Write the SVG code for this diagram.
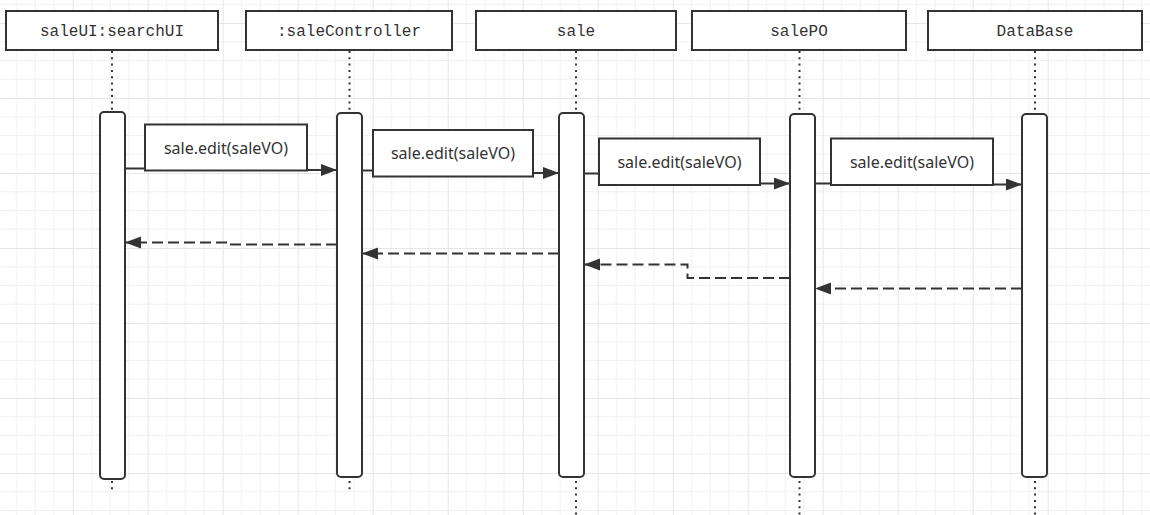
<svg xmlns="http://www.w3.org/2000/svg" width="1150" height="515" viewBox="0 0 1150 515">
<defs>
<pattern id="grid" patternUnits="userSpaceOnUse" x="-2.3" y="23" width="75" height="75">
<rect width="75" height="75" fill="#ffffff"/>
<path d="M18.75,0V75M37.5,0V75M56.25,0V75M0,18.75H75M0,37.5H75M0,56.25H75" stroke="#f1f1f1" stroke-width="1" fill="none"/>
<path d="M0.5,0V75M0,0.5H75" stroke="#e6e6e6" stroke-width="1" fill="none"/>
</pattern>
<marker id="arr" markerUnits="userSpaceOnUse" markerWidth="18" markerHeight="14" refX="16" refY="6" orient="auto">
<path d="M0,0 L16,6 L0,12 z" fill="#333333"/>
</marker>
</defs>
<style>
.box{fill:#ffffff;stroke:#333333;stroke-width:2}
.bar{fill:#ffffff;stroke:#333333;stroke-width:2}
.life{stroke:#333333;stroke-width:2;stroke-dasharray:2 4.3;fill:none}
.hdr{font-family:"Liberation Mono","DejaVu Sans Mono",monospace;font-size:16px;fill:#333333;text-anchor:middle}
.msg{fill:none;stroke:#333333;stroke-width:2;marker-end:url(#arr)}
.ret{fill:none;stroke:#333333;stroke-width:2;stroke-dasharray:11 5;marker-end:url(#arr)}
.lbl{fill:#ffffff;stroke:#333333;stroke-width:2}
.lt{font-family:"Noto Sans","Liberation Sans",sans-serif;font-size:16px;fill:#333333;text-anchor:middle}
</style>
<rect width="1150" height="515" fill="url(#grid)"/>

<g id="saleUI">
<path class="life" d="M112,51V111M112,481V490"/>
<rect class="box" x="6" y="11" width="212" height="39"/>
<text class="hdr" x="112" y="36">saleUI:searchUI</text>
<rect class="bar" x="100" y="112" width="25" height="367" rx="4"/>
</g>
<g id="saleController">
<path class="life" d="M349.5,51V112M349.5,481V490"/>
<rect class="box" x="246" y="11" width="206" height="39"/>
<text class="hdr" x="349" y="36">:saleController</text>
<rect class="bar" x="337" y="113" width="25" height="364" rx="4"/>
</g>
<g id="sale">
<path class="life" d="M576,51V112M576,481V515"/>
<rect class="box" x="476" y="11" width="200" height="39"/>
<text class="hdr" x="576" y="36">sale</text>
<rect class="bar" x="559" y="113" width="25" height="364" rx="4"/>
</g>
<g id="salePO">
<path class="life" d="M799.5,51V113M799.5,481V515"/>
<rect class="box" x="692" y="11" width="214" height="39"/>
<text class="hdr" x="799" y="36">salePO</text>
<rect class="bar" x="790" y="114" width="25" height="363" rx="4"/>
</g>
<g id="DataBase">
<path class="life" d="M1035,51V113M1035,481V515"/>
<rect class="box" x="928" y="11" width="214" height="39"/>
<text class="hdr" x="1035" y="36">DataBase</text>
<rect class="bar" x="1022" y="114" width="25" height="363" rx="4"/>
</g>

<g id="connectors">
<path class="msg" d="M126,168.5H145M307,170H337"/>
<rect class="lbl" x="145" y="124.5" width="162" height="46"/>
<text class="lt" x="226" y="153.5">sale.edit(saleVO)</text>

<path class="msg" d="M363,170.5H373M533,173H559"/>
<rect class="lbl" x="373" y="130" width="160" height="46.5"/>
<text class="lt" x="453" y="159">sale.edit(saleVO)</text>

<path class="msg" d="M585,173.5H599M760,183.5H790"/>
<rect class="lbl" x="599" y="138.5" width="161" height="46.5"/>
<text class="lt" x="679.5" y="168">sale.edit(saleVO)</text>

<path class="msg" d="M816,183.5H831M993,184.5H1022"/>
<rect class="lbl" x="831" y="138.5" width="162" height="46.5"/>
<text class="lt" x="912" y="168">sale.edit(saleVO)</text>

<path class="ret" d="M337,244.5H231V242.5H125"/>
<path class="ret" d="M559,253.5H362"/>
<path class="ret" d="M790,278H687.5V264.5H584"/>
<path class="ret" d="M1022,288.5H815"/>
</g>
</svg>
